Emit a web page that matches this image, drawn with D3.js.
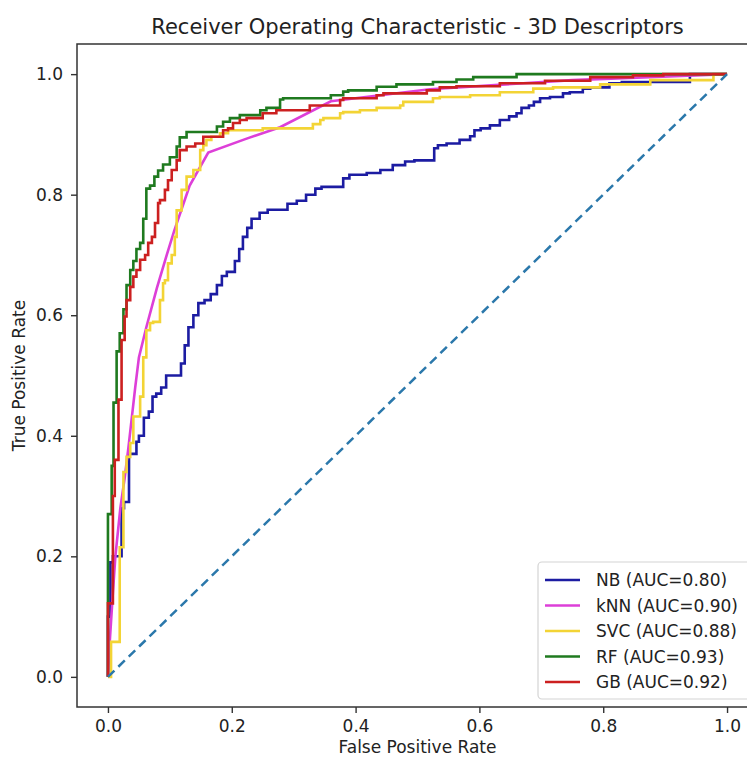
<!DOCTYPE html>
<html>
<head>
<meta charset="utf-8">
<script src="https://cdn.jsdelivr.net/npm/d3@7/dist/d3.min.js"></script>
<style>
  html, body { margin: 0; padding: 0; background: #fff; }
  svg { display: block; }
  text { font-family: "DejaVu Sans", sans-serif; fill: #222; }
</style>
</head>
<body>
<svg id="chart" width="747" height="758"></svg>
<script>
// ROC curves: false positive rate / true positive rate per classifier
const nbFpr = [0,0.004,0.008,0.022,0.026,0.034,0.040,0.046,0.050,0.058,0.066,0.072,0.078,0.086,0.094,0.100,0.118,0.124,0.130,0.138,0.146,0.156,0.166,0.176,0.184,0.192,0.205,0.212,0.218,0.225,0.232,0.245,0.258,0.290,0.305,0.320,0.335,0.345,0.380,0.390,0.418,0.440,0.460,0.480,0.495,0.527,0.533,0.547,0.568,0.585,0.592,0.602,0.617,0.633,0.648,0.660,0.668,0.680,0.688,0.698,0.714,0.735,0.746,0.767,0.779,0.810,0.830,0.940,0.940,1];
const nbTpr = [0,0.10,0.19,0.20,0.28,0.29,0.37,0.37,0.39,0.40,0.43,0.44,0.465,0.47,0.48,0.50,0.50,0.52,0.55,0.58,0.60,0.62,0.625,0.635,0.65,0.665,0.672,0.69,0.71,0.73,0.745,0.76,0.77,0.775,0.785,0.79,0.80,0.81,0.813,0.827,0.833,0.836,0.841,0.849,0.855,0.857,0.877,0.882,0.885,0.891,0.897,0.907,0.910,0.915,0.924,0.930,0.935,0.944,0.948,0.954,0.960,0.962,0.968,0.970,0.976,0.978,0.985,0.987,1.0,1];

const knnFpr = [0,0.003,0.008,0.012,0.020,0.027,0.033,0.044,0.050,0.062,0.079,0.095,0.107,0.132,0.162,0.224,0.278,0.360,0.520,0.750,1];
const knnTpr = [0,0.06,0.14,0.20,0.28,0.33,0.38,0.48,0.53,0.58,0.645,0.70,0.74,0.815,0.87,0.893,0.912,0.955,0.975,0.990,1];

const svcFpr = [0,0.005,0.005,0.019,0.019,0.025,0.030,0.036,0.041,0.052,0.057,0.062,0.068,0.073,0.084,0.089,0.092,0.097,0.103,0.108,0.111,0.119,0.127,0.138,0.149,0.154,0.159,0.167,0.181,0.194,0.202,0.250,0.256,0.331,0.343,0.348,0.375,0.380,0.407,0.434,0.472,0.477,0.525,0.536,0.585,0.633,0.687,0.719,0.795,0.876,0.978,1];
const svcTpr = [0,0,0.058,0.058,0.19,0.215,0.34,0.365,0.388,0.432,0.465,0.53,0.575,0.587,0.589,0.625,0.653,0.658,0.686,0.70,0.73,0.774,0.808,0.83,0.841,0.874,0.882,0.891,0.896,0.902,0.907,0.907,0.910,0.910,0.917,0.924,0.927,0.935,0.937,0.940,0.944,0.948,0.954,0.960,0.962,0.965,0.970,0.976,0.978,0.983,0.990,1];

const rfFpr = [0,0,0.006,0.006,0.009,0.009,0.014,0.014,0.019,0.025,0.030,0.036,0.041,0.046,0.052,0.057,0.062,0.068,0.075,0.081,0.089,0.100,0.111,0.116,0.127,0.132,0.176,0.186,0.197,0.213,0.246,0.256,0.278,0.283,0.360,0.380,0.388,0.434,0.466,0.525,0.563,0.590,0.660,0.762,1];
const rfTpr = [0,0.27,0.27,0.35,0.35,0.45,0.455,0.53,0.54,0.57,0.61,0.65,0.675,0.69,0.71,0.72,0.76,0.81,0.815,0.83,0.84,0.85,0.862,0.88,0.895,0.904,0.904,0.913,0.921,0.927,0.932,0.940,0.944,0.958,0.960,0.965,0.971,0.973,0.979,0.983,0.987,0.991,0.995,1.0,1];

const gbFpr = [0,0,0.008,0.008,0.011,0.011,0.017,0.017,0.022,0.022,0.027,0.030,0.036,0.041,0.046,0.052,0.060,0.065,0.071,0.076,0.081,0.084,0.092,0.097,0.103,0.111,0.116,0.127,0.141,0.154,0.165,0.186,0.194,0.202,0.213,0.224,0.250,0.272,0.326,0.331,0.375,0.380,0.434,0.445,0.515,0.536,0.563,0.633,0.706,0.779,0.848,0.897,1];
const gbTpr = [0,0.122,0.122,0.21,0.30,0.355,0.36,0.454,0.46,0.542,0.559,0.598,0.625,0.647,0.664,0.675,0.692,0.70,0.72,0.73,0.753,0.786,0.791,0.808,0.824,0.841,0.857,0.874,0.88,0.885,0.896,0.896,0.907,0.91,0.919,0.924,0.927,0.935,0.94,0.948,0.948,0.957,0.96,0.965,0.968,0.973,0.978,0.98,0.985,0.989,0.995,0.998,1];

const modelNames = ["NB", "kNN", "SVC", "RF", "GB"];
const aucValues = [0.80, 0.90, 0.88, 0.93, 0.92];
const modelColors = ["#1c1ca2", "#dd3fd8", "#f3d435", "#1f7a1f", "#cc2020"];
const tickValues = [0.0, 0.2, 0.4, 0.6, 0.8, 1.0];

(function draw() {
  const series = [
    { fpr: nbFpr, tpr: nbTpr, stepped: true },
    { fpr: knnFpr, tpr: knnTpr, stepped: false },
    { fpr: svcFpr, tpr: svcTpr, stepped: true },
    { fpr: rfFpr, tpr: rfTpr, stepped: true },
    { fpr: gbFpr, tpr: gbTpr, stepped: true }
  ].map((s, i) => ({ ...s, name: modelNames[i], auc: aucValues[i], color: modelColors[i] }));

  const svg = d3.select("#chart");
  const pL = 77, pR = 758, pT = 44, pB = 707;

  const x = d3.scaleLinear().domain([-0.05, 1.05]).range([pL, pR]);
  const y = d3.scaleLinear().domain([-0.05, 1.05]).range([pB, pT]);

  svg.append("defs").append("clipPath").attr("id", "plotClip")
    .append("rect").attr("x", pL).attr("y", pT)
    .attr("width", pR - pL).attr("height", pB - pT);

  // title
  svg.append("text")
    .attr("x", (pL + pR) / 2).attr("y", 34)
    .attr("text-anchor", "middle")
    .style("font-size", "21px")
    .text("Receiver Operating Characteristic - 3D Descriptors");

  const plot = svg.append("g").attr("clip-path", "url(#plotClip)");

  // ROC curves
  series.forEach(s => {
    const pts = s.fpr.map((f, i) => [f, s.tpr[i]]);
    const line = d3.line()
      .x(d => x(d[0])).y(d => y(d[1]))
      .curve(s.stepped ? d3.curveStepBefore : d3.curveLinear);
    plot.append("path")
      .attr("d", line(pts))
      .attr("fill", "none")
      .attr("stroke", s.color)
      .attr("stroke-width", 2.6)
      .attr("stroke-linejoin", "miter");
  });

  // chance diagonal
  plot.append("path")
    .attr("d", d3.line().x(d => x(d[0])).y(d => y(d[1]))([[0, 0], [1, 1]]))
    .attr("fill", "none")
    .attr("stroke", "#2b78ab")
    .attr("stroke-width", 2.5)
    .attr("stroke-dasharray", "9,5.5");

  // axes
  const fmt = d3.format(".1f");
  const xAxis = svg.append("g").attr("transform", `translate(0,${pB})`)
    .call(d3.axisBottom(x).tickValues(tickValues).tickFormat(fmt).tickSize(6).tickPadding(7));
  const yAxis = svg.append("g").attr("transform", `translate(${pL},0)`)
    .call(d3.axisLeft(y).tickValues(tickValues).tickFormat(fmt).tickSize(6).tickPadding(8));
  [xAxis, yAxis].forEach(g => {
    g.select(".domain").remove();
    g.selectAll(".tick line").attr("stroke", "#333").attr("stroke-width", 1.4);
    g.selectAll(".tick text").style("font-size", "17px").attr("fill", "#222")
      .style("font-family", "'DejaVu Sans', sans-serif");
  });

  // spines
  svg.append("rect")
    .attr("x", pL).attr("y", pT)
    .attr("width", pR - pL).attr("height", pB - pT)
    .attr("fill", "none").attr("stroke", "#333").attr("stroke-width", 1.5);

  // axis labels
  svg.append("text")
    .attr("x", (pL + pR) / 2).attr("y", 753)
    .attr("text-anchor", "middle")
    .style("font-size", "17px")
    .text("False Positive Rate");
  svg.append("text")
    .attr("transform", `translate(25,${(pT + pB) / 2}) rotate(-90)`)
    .attr("text-anchor", "middle")
    .style("font-size", "17px")
    .text("True Positive Rate");

  // legend
  const legX = 538, legY = 562, legW = 213, legH = 137, rowH = 25.5;
  const legend = svg.append("g");
  legend.append("rect")
    .attr("x", legX).attr("y", legY).attr("width", legW).attr("height", legH)
    .attr("rx", 4).attr("fill", "#fff").attr("fill-opacity", 0.85)
    .attr("stroke", "#d4d4d4").attr("stroke-width", 1.2);
  series.forEach((s, i) => {
    const cy = legY + 18 + i * rowH;
    legend.append("line")
      .attr("x1", legX + 7).attr("x2", legX + 42)
      .attr("y1", cy).attr("y2", cy)
      .attr("stroke", s.color).attr("stroke-width", 2.6);
    legend.append("text")
      .attr("x", legX + 58).attr("y", cy).attr("dy", "0.36em")
      .style("font-size", "17px")
      .text(`${s.name} (AUC=${s.auc.toFixed(2)})`);
  });
})();
</script>
</body>
</html>
